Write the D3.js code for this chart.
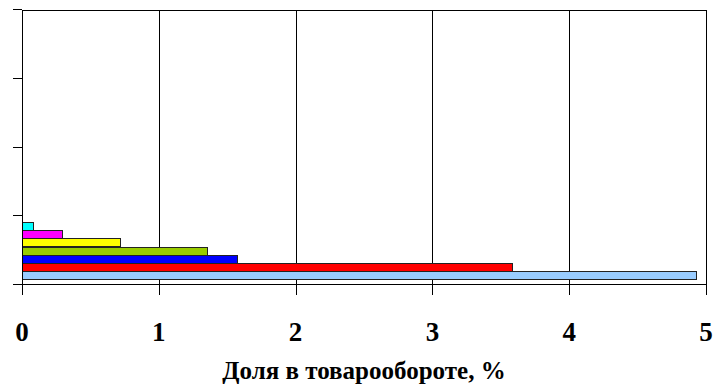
<!DOCTYPE html>
<html>
<head>
<meta charset="utf-8">
<script src="https://cdn.jsdelivr.net/npm/d3@7"></script>
<style>
  html, body { margin: 0; padding: 0; background: #fff; }
  svg { display: block; }
</style>
</head>
<body>
<svg id="chart" width="715" height="384"></svg>
<script>
// ---- data ----
const categories = ["1", "2", "3", "4"];           // category slots on the vertical axis (bottom first)
const seriesNames = ["Ряд 1", "Ряд 2", "Ряд 3", "Ряд 4", "Ряд 5", "Ряд 6", "Ряд 7"];
const seriesValues = [4.93, 3.58, 1.57, 1.35, 0.72, 0.29, 0.08]; // values in category "1"
const seriesColors = ["#99CCFF", "#FF0000", "#0000FF", "#99CC00", "#FFFF00", "#FF00FF", "#00FFFF"];
const xTicks = [0, 1, 2, 3, 4, 5];
const xTitle = "Доля в товарообороте, %";

// ---- layout ----
const svg = d3.select("#chart");
const pL = 22, pR = 706, pT = 10, pB = 285;
const FONT = "Liberation Serif";

const x = d3.scaleLinear().domain([0, 5]).range([pL, pR]);
// Excel: first category at the bottom
const y = d3.scaleBand().domain(categories).range([pB, pT]).paddingInner(0).paddingOuter(0);
const inner = d3.scaleBand().domain(seriesNames).range([y.bandwidth(), 0]).paddingInner(0).paddingOuter(0.72);

const g = svg.append("g").attr("shape-rendering", "crispEdges");

// gridlines + downward ticks
g.selectAll("line.grid").data(xTicks).join("line")
  .attr("x1", d => Math.round(x(d)) + 0.5).attr("x2", d => Math.round(x(d)) + 0.5)
  .attr("y1", pT).attr("y2", pB + 10)
  .attr("stroke", "#000").attr("stroke-width", 1);

// plot frame top and bottom
g.append("line").attr("x1", pL).attr("x2", pR + 1).attr("y1", pT + 0.5).attr("y2", pT + 0.5).attr("stroke", "#000");
g.append("line").attr("x1", pL).attr("x2", pR + 1).attr("y1", pB - 0.5).attr("y2", pB - 0.5).attr("stroke", "#000");

// left axis tick marks at category boundaries
const yBoundaries = categories.map(c => y(c)).concat([y(categories[0]) + y.bandwidth()]);
g.selectAll("line.ytick").data(yBoundaries).join("line")
  .attr("x1", pL - 9).attr("x2", pL)
  .attr("y1", d => Math.round(d) - 0.5).attr("y2", d => Math.round(d) - 0.5)
  .attr("stroke", "#000");

// bars
const cat = categories[0];
g.selectAll("rect.bar").data(seriesValues).join("rect")
  .attr("x", x(0) + 0.5)
  .attr("y", (d, i) => Math.round(y(cat) + inner(seriesNames[i])) + 0.5)
  .attr("width", d => x(d) - x(0))
  .attr("height", Math.round(inner.bandwidth()))
  .attr("fill", (d, i) => seriesColors[i])
  .attr("stroke", "#222").attr("stroke-width", 1);

// left axis line on top
g.append("line").attr("x1", pL + 0.5).attr("x2", pL + 0.5).attr("y1", pT).attr("y2", pB + 10).attr("stroke", "#000");

// x tick labels
svg.selectAll("text.xt").data(xTicks).join("text")
  .attr("x", d => x(d)).attr("y", 341)
  .attr("text-anchor", "middle")
  .attr("font-family", FONT).attr("font-weight", "bold").attr("font-size", 27)
  .text(d => d);

// axis title
svg.append("text")
  .attr("x", (pL + pR) / 2).attr("y", 379)
  .attr("text-anchor", "middle")
  .attr("font-family", FONT).attr("font-weight", "bold").attr("font-size", 25)
  .text(xTitle);
</script>
</body>
</html>
